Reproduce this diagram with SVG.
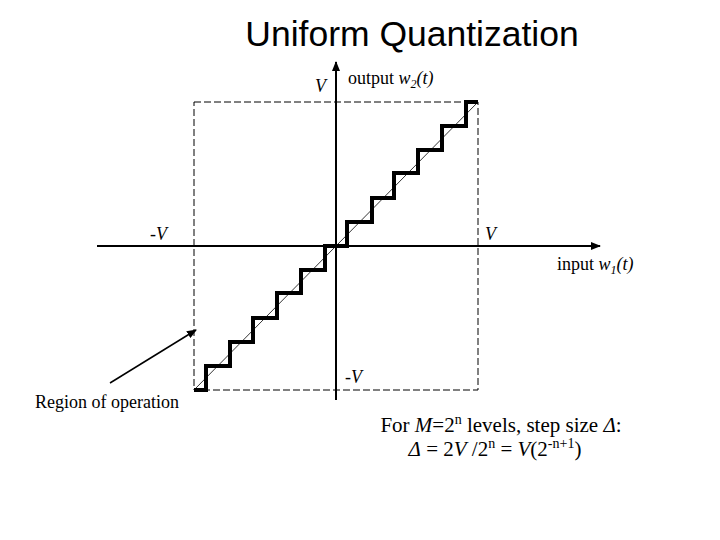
<svg xmlns="http://www.w3.org/2000/svg" width="720" height="540" viewBox="0 0 720 540">
<defs><marker id="ah" markerWidth="10" markerHeight="8" refX="9" refY="4" orient="auto" markerUnits="userSpaceOnUse"><path d="M0,0 L10,4 L0,8 Z" fill="#000"/></marker></defs>
<style>.s{font-family:"Liberation Serif",serif;font-size:18px}.i{font-style:italic}.b{font-size:21px}</style>
<rect width="720" height="540" fill="#fff"/>
<text x="412" y="46" text-anchor="middle" font-family="Liberation Sans,sans-serif" font-size="35.5">Uniform Quantization</text>
<g id="region"><rect x="194" y="102" width="284" height="288" fill="none" stroke="#000" stroke-dasharray="7,3"/></g>
<g id="connectors" stroke="#000" fill="none">
<line x1="97" y1="246" x2="600" y2="246" stroke-width="2" marker-end="url(#ah)"/>
<line x1="336" y1="400" x2="336" y2="62" stroke-width="2" marker-end="url(#ah)"/>
<line x1="194" y1="390" x2="478" y2="102" stroke-width="0.8"/>
<line x1="110" y1="383" x2="196" y2="330" stroke-width="1.5" marker-end="url(#ah)"/>
</g>
<g id="staircase"><polyline fill="none" stroke="#000" stroke-width="4" points="194,390 206,390 206,366 230,366 230,342 253,342 253,318 277,318 277,293 301,293 301,270 325,270 325,246 347,246 347,222 372,222 372,198 394,198 394,173 418,173 418,150 442,150 442,126 466,126 466,102 478,102"/></g>
<g id="labels" class="s">
<text x="315" y="92" class="s i">V</text>
<text x="348" y="84" class="s">output <tspan class="i">w</tspan><tspan class="i" font-size="12" dy="4">2</tspan><tspan class="i" dy="-4">(t)</tspan></text>
<text x="150" y="240" class="s i">-V</text>
<text x="485" y="240" class="s i">V</text>
<text x="557" y="270" class="s">input <tspan class="i">w</tspan><tspan class="i" font-size="12" dy="4">1</tspan><tspan class="i" dy="-4">(t)</tspan></text>
<text x="345" y="383" class="s i">-V</text>
<text x="35" y="408" class="s" font-size="20">Region of operation</text>
<text x="501" y="432" text-anchor="middle" class="s b">For <tspan class="i">M</tspan>=2<tspan font-size="14" dy="-8">n</tspan><tspan dy="8"> levels, step size </tspan><tspan class="i">Δ</tspan>:</text>
<text x="495" y="456" text-anchor="middle" class="s b"><tspan class="i">Δ</tspan> = 2<tspan class="i">V</tspan> /2<tspan font-size="14" dy="-8">n</tspan><tspan dy="8"> = </tspan><tspan class="i">V</tspan>(2<tspan font-size="14" dy="-8">-n+1</tspan><tspan dy="8">)</tspan></text>
</g>
</svg>
